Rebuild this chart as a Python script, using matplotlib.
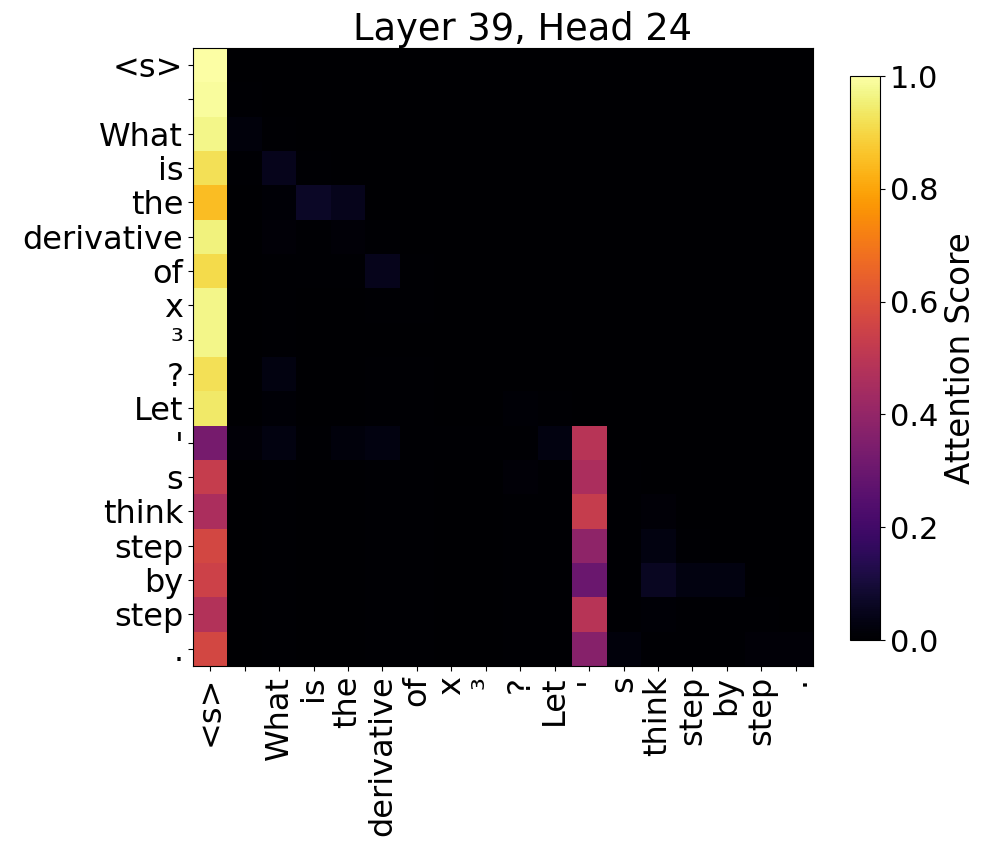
import matplotlib
matplotlib.use("Agg")
import matplotlib.pyplot as plt
import numpy as np

tokens = ["<s>", "", "What", "is", "the", "derivative", "of", "x", "\u00b3", "?",
          "Let", "'", "s", "think", "step", "by", "step", "."]

title = "Layer 39, Head 24"
cbar_label = "Attention Score"
cbar_ticks = [0.0, 0.2, 0.4, 0.6, 0.8, 1.0]

Z = 0.0
attn = [
    [1.00, Z, Z, Z, Z, Z, Z, Z, Z, Z, Z, Z, Z, Z, Z, Z, Z, Z],
    [0.99, 0.005, Z, Z, Z, Z, Z, Z, Z, Z, Z, Z, Z, Z, Z, Z, Z, Z],
    [0.97, 0.02, 0.004, Z, Z, Z, Z, Z, Z, Z, Z, Z, Z, Z, Z, Z, Z, Z],
    [0.92, 0.004, 0.05, 0.004, Z, Z, Z, Z, Z, Z, Z, Z, Z, Z, Z, Z, Z, Z],
    [0.85, 0.003, 0.008, 0.07, 0.05, Z, Z, Z, Z, Z, Z, Z, Z, Z, Z, Z, Z, Z],
    [0.96, 0.003, 0.015, 0.004, 0.015, 0.004, Z, Z, Z, Z, Z, Z, Z, Z, Z, Z, Z, Z],
    [0.91, 0.003, 0.006, 0.004, 0.004, 0.05, 0.004, Z, Z, Z, Z, Z, Z, Z, Z, Z, Z, Z],
    [0.97, 0.003, 0.006, 0.003, 0.003, 0.004, 0.004, 0.003, Z, Z, Z, Z, Z, Z, Z, Z, Z, Z],
    [0.97, 0.003, 0.006, 0.003, 0.003, 0.003, 0.003, 0.003, 0.003, Z, Z, Z, Z, Z, Z, Z, Z, Z],
    [0.92, 0.003, 0.03, 0.003, 0.003, 0.004, 0.004, 0.003, 0.003, 0.003, Z, Z, Z, Z, Z, Z, Z, Z],
    [0.94, 0.003, 0.008, 0.003, 0.003, 0.004, 0.004, 0.003, 0.003, 0.01, 0.004, Z, Z, Z, Z, Z, Z, Z],
    [0.33, 0.015, 0.03, 0.004, 0.02, 0.03, 0.006, 0.005, 0.005, 0.006, 0.03, 0.49, Z, Z, Z, Z, Z, Z],
    [0.53, 0.003, 0.004, 0.003, 0.003, 0.004, 0.004, 0.003, 0.003, 0.012, 0.005, 0.46, 0.004, Z, Z, Z, Z, Z],
    [0.46, 0.003, 0.004, 0.003, 0.003, 0.004, 0.004, 0.003, 0.003, 0.004, 0.004, 0.53, 0.004, 0.012, Z, Z, Z, Z],
    [0.57, 0.003, 0.004, 0.003, 0.003, 0.004, 0.004, 0.003, 0.003, 0.004, 0.004, 0.39, 0.004, 0.03, 0.004, Z, Z, Z],
    [0.55, 0.003, 0.004, 0.003, 0.003, 0.004, 0.004, 0.003, 0.003, 0.004, 0.004, 0.30, 0.004, 0.06, 0.03, 0.03, Z, Z],
    [0.48, 0.003, 0.004, 0.003, 0.003, 0.004, 0.004, 0.003, 0.003, 0.004, 0.004, 0.49, 0.004, 0.01, 0.006, 0.006, 0.004, Z],
    [0.57, 0.003, 0.006, 0.003, 0.003, 0.004, 0.004, 0.003, 0.003, 0.004, 0.004, 0.37, 0.02, 0.006, 0.006, 0.006, 0.012, 0.012],
]

data = np.array(attn)

fig = plt.figure(figsize=(9.97, 8.63), dpi=100)
ax = fig.add_axes([193 / 997, 1 - 666 / 863, 620 / 997, 618 / 863])
cax = fig.add_axes([850 / 997, 1 - 640 / 863, 30 / 997, 564 / 863])

im = ax.imshow(data, cmap="inferno", vmin=0, vmax=1, aspect="auto", interpolation="nearest")
ax.set_xticks(range(len(tokens)))
ax.set_yticks(range(len(tokens)))
ax.set_xticklabels(tokens, rotation=90, fontsize=23)
ax.set_yticklabels(tokens, fontsize=23)
ax.set_title(title, fontsize=26.5, x=(522 - 193) / 620)

cb = fig.colorbar(im, cax=cax)
cb.set_ticks(cbar_ticks)
cb.ax.tick_params(labelsize=22)
cb.set_label(cbar_label, fontsize=23.5)

fig.savefig("out.png", dpi=100)
